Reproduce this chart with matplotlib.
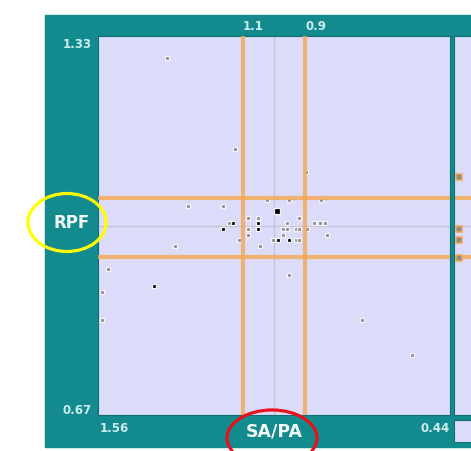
import matplotlib
matplotlib.use("Agg")
import matplotlib.pyplot as plt
from matplotlib.patches import Rectangle, Ellipse

# =========================
# Data
# =========================
gray_x = [1.341, 1.123, 0.898, 1.021, 0.951, 0.850, 1.275, 1.163, 1.084, 1.050,
          0.921, 1.142, 0.960, 0.872, 0.854, 0.838, 1.084, 0.972, 0.960, 0.930,
          0.920, 0.896, 1.084, 0.972, 0.830, 1.110, 1.002, 0.930, 0.920, 1.314,
          1.045, 1.527, 0.951, 1.546, 1.546, 0.720, 0.560]
gray_y = [1.291, 1.133, 1.093, 1.045, 1.045, 1.045, 1.034, 1.034, 1.013, 1.013,
          1.013, 1.005, 1.005, 1.005, 1.005, 1.005, 0.994, 0.994, 0.994, 0.994,
          0.994, 0.994, 0.984, 0.984, 0.984, 0.974, 0.974, 0.974, 0.974, 0.964,
          0.964, 0.924, 0.914, 0.884, 0.836, 0.835, 0.775]

black_x = [1.130, 1.050, 1.163, 1.050, 0.988, 0.951, 1.382]
black_y = [1.005, 1.005, 0.994, 0.994, 0.974, 0.974, 0.894]
big_x = [0.991]
big_y = [1.025]

side_y = [1.084, 0.994, 0.974, 0.944]

x_lim = (1.56, 0.44)
y_lim = (0.67, 1.33)
x_bands = [1.1, 0.9]
y_bands = [1.048, 0.946]

# =========================
# Colours
# =========================
TEAL = "#138a8e"
LAV = "#dcdcfa"
ORANGE = "#f5a84f"
TXT = "#cdeef0"

fig = plt.figure(figsize=(4.71, 4.51), dpi=100)
W, H = 471, 451

def fx(px):
    return px / W

def fy(py):
    return 1 - py / H

# teal panel (behind the axes)
fig.patches.append(Rectangle((fx(45), fy(447)), 1 - fx(45), fy(15) - fy(447),
                             transform=fig.transFigure, color=TEAL, zorder=-2))
# small box bottom right
fig.patches.append(Rectangle((fx(454), fy(442)), 0.06, fy(420) - fy(442),
                             transform=fig.transFigure, facecolor=LAV,
                             edgecolor="#0e6f73", lw=0.8, zorder=-1))

# =========================
# Main axes
# =========================
ax = fig.add_axes([fx(98), fy(415), fx(450) - fx(98), fy(36) - fy(415)])
ax.set_zorder(1)
ax.set_facecolor(LAV)
ax.set_xlim(*x_lim)
ax.set_ylim(*y_lim)
ax.set_xticks([])
ax.set_yticks([])
for s in ax.spines.values():
    s.set_color("#0e6f73")
    s.set_linewidth(0.8)

ax.axvline(1.0, color="#c4c4d4", lw=0.9, zorder=1)
ax.axhline(1.0, color="#c4c4d4", lw=0.9, zorder=1)

ax.scatter(gray_x, gray_y, marker="s", s=11, c="#8c8c8c",
           edgecolors="#f4f4fc", linewidths=0.9, zorder=3)
ax.scatter(black_x, black_y, marker="s", s=9, c="black",
           edgecolors="#f4f4fc", linewidths=0.9, zorder=3)
ax.scatter(big_x, big_y, marker="s", s=18, c="black",
           edgecolors="#f4f4fc", linewidths=0.9, zorder=3)

for xv in x_bands:
    ax.axvline(xv, color=ORANGE, lw=3.0, alpha=0.8, zorder=4)
for yv in y_bands:
    ax.axhline(yv, color=ORANGE, lw=3.0, alpha=0.8, zorder=4)

for xv in x_bands:
    ax.text(xv, 1.024, f"{xv:g}", transform=ax.get_xaxis_transform(),
            ha="left", va="center", color=TXT, fontsize=8.5, fontweight="bold",
            clip_on=False)

# =========================
# Side strip
# =========================
ax2 = fig.add_axes([fx(454), fy(415), 0.06, fy(36) - fy(415)])
ax2.set_zorder(1)
ax2.set_facecolor(LAV)
ax2.set_xlim(0, 1)
ax2.set_ylim(*y_lim)
ax2.set_xticks([])
ax2.set_yticks([])
for s in ax2.spines.values():
    s.set_color("#0e6f73")
    s.set_linewidth(0.8)
ax2.axhline(1.0, color="#c4c4d4", lw=0.9, zorder=1)
for yv in y_bands:
    ax2.axhline(yv, color=ORANGE, lw=3.0, alpha=0.8, zorder=2)
ax2.scatter([0.18] * len(side_y), side_y, marker="s", s=14, c="#8c8c8c",
            edgecolors=ORANGE, linewidths=1.1, zorder=3)

# =========================
# Labels
# =========================
fig.text(fx(92), fy(44), "1.33", ha="right", va="center", color=TXT,
         fontsize=8.5, fontweight="bold")
fig.text(fx(92), fy(410), "0.67", ha="right", va="center", color=TXT,
         fontsize=8.5, fontweight="bold")
fig.text(fx(100), fy(429), "1.56", ha="left", va="center", color=TXT,
         fontsize=8.5, fontweight="bold")
fig.text(fx(450), fy(428), "0.44", ha="right", va="center", color=TXT,
         fontsize=8.5, fontweight="bold")

fig.text(fx(72), fy(223), "RPF", ha="center", va="center", color="#f2fafa",
         fontsize=12, fontweight="bold")
fig.text(fx(274), fy(432), "SA/PA", ha="center", va="center", color="#f2fafa",
         fontsize=12.5, fontweight="bold")

# annotation circles
fig.patches.append(Ellipse((fx(67), fy(222.5)), 78 / W, 58 / H,
                           transform=fig.transFigure, fill=False,
                           edgecolor="#ffff00", lw=2.3, zorder=5))
fig.patches.append(Ellipse((fx(272), fy(438)), 90 / W, 56 / H,
                           transform=fig.transFigure, fill=False,
                           edgecolor="#e8101a", lw=2.3, zorder=5))

fig.savefig("out.png", dpi=100)
plt.close()
